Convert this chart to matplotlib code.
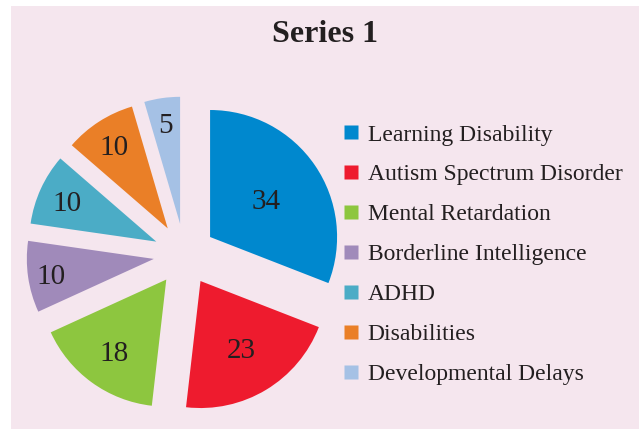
import matplotlib
matplotlib.use("Agg")
import matplotlib.pyplot as plt
import numpy as np
from matplotlib.patches import Rectangle
from matplotlib.lines import Line2D

categories = ["Learning Disability", "Autism Spectrum Disorder", "Mental Retardation",
              "Borderline Intelligence", "ADHD", "Disabilities", "Developmental Delays"]
values = [34, 23, 18, 10, 10, 10, 5]
title = "Series 1"

colors = ["#0088CE", "#EE1B2E", "#8DC63F", "#A08ABA", "#4BACC6", "#EA7F27", "#A5C1E5"]
label_r = [0.53, 0.62, 0.70, 0.82, 0.77, 0.78, 0.80]
bg = "#F5E6EE"
FONT = "Liberation Serif"

W, H = 639, 429
fig = plt.figure(figsize=(W/100, H/100), dpi=100)
fig.patch.set_facecolor("white")
fig.add_artist(Rectangle((11/W, 0), 1 - 11/W, 1 - 6/H, transform=fig.transFigure,
                         facecolor=bg, edgecolor="none", zorder=0))

# pie axes
cx, cy, R = 184.5, 254.5, 127
S = 330
ax = fig.add_axes([(cx - S/2)/W, (H - cy - S/2)/H, S/W, S/H])
lim = S / 2 / R
explode = [0.244] * len(values)
wedges, _ = ax.pie(values, colors=colors, startangle=90, counterclock=False,
                   explode=explode, radius=1.0, wedgeprops=dict(linewidth=0))
ax.set_xlim(-lim, lim)
ax.set_ylim(-lim, lim)
ax.set_aspect("equal")
ax.axis("off")
for w, v, lr in zip(wedges, values, label_r):
    ang = np.deg2rad((w.theta1 + w.theta2) / 2)
    c = w.center
    r = w.r
    ax.text(c[0] + lr * r * np.cos(ang), c[1] + lr * r * np.sin(ang), str(v),
            ha="center", va="center_baseline", fontsize=21, family=FONT, color="#231F20")

fig.text(325/W, 1 - 34/H, title, ha="center", va="center", fontsize=23,
         fontweight="bold", family=FONT, color="#231F20")

handles = [Line2D([], [], marker="s", linestyle="none", markersize=9.5,
                  markerfacecolor=c, markeredgecolor="none") for c in colors]
leg = fig.legend(handles, categories, loc="upper left", bbox_to_anchor=(343/W, 1 - 124/H),
                 frameon=False, prop=dict(family=FONT, size=17), labelspacing=0.78,
                 handlelength=0.7, handletextpad=0.35, borderaxespad=0, borderpad=0)
for t in leg.get_texts():
    t.set_color("#231F20")

fig.savefig("out.png", dpi=100, facecolor=fig.get_facecolor())
